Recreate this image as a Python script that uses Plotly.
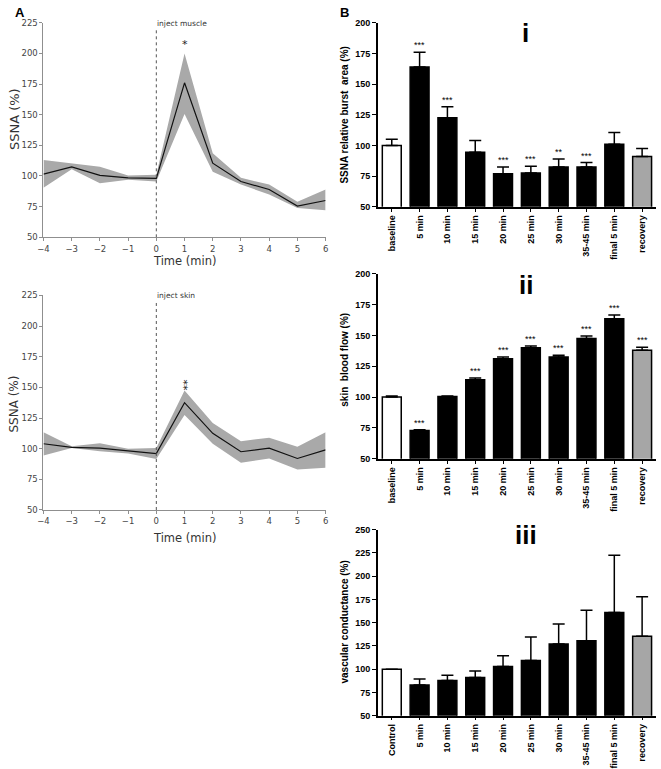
import plotly.graph_objects as go

W, H = 661, 769

# ---------------- data ----------------
time_min = [-4, -3, -2, -1, 0, 1, 2, 3, 4, 5, 6]

muscle_mean = [101.5, 107.5, 100.5, 98.5, 98, 176, 110.5, 95.5, 89, 75.5, 80]
muscle_upper = [113, 110, 107.5, 100.5, 101, 200, 118.5, 98.5, 93, 79, 89]
muscle_lower = [90.5, 105.5, 94, 97, 95.5, 150.5, 103.5, 93, 85, 74, 72]

skin_mean = [104, 101, 100.5, 98, 96, 137.5, 112.5, 97.5, 100.5, 92, 99]
skin_upper = [113.5, 102, 104.5, 100, 100.5, 147.5, 121, 106, 109, 101.5, 113.5]
skin_lower = [94.5, 100.5, 98, 96, 91.5, 127.5, 104, 88.5, 92, 83, 84.5]

periods = ["baseline", "5 min", "10 min", "15 min", "20 min", "25 min",
           "30 min", "35-45 min", "final 5 min", "recovery"]
periods_iii = ["Control", "5 min", "10 min", "15 min", "20 min", "25 min",
               "30 min", "35-45 min", "final 5 min", "recovery"]

burst_area = [100, 164, 122.5, 94.5, 77, 77.5, 82.5, 82.5, 101, 91]
burst_err = [5, 12, 9, 9.5, 5.5, 5.5, 6.5, 3.5, 9.5, 6.5]
burst_sig = ["", "***", "***", "", "***", "***", "**", "***", "", ""]

blood_flow = [100, 73, 100.5, 114, 131, 140, 132.5, 147.5, 163.5, 138]
blood_err = [1, 0.5, 0.5, 1.5, 1.5, 1.5, 1.5, 2, 3, 2.5]
blood_sig = ["", "***", "", "***", "***", "***", "***", "***", "***", "***"]

conductance = [100, 83, 88, 91, 103, 109.5, 127, 130.5, 161, 135.5]
cond_err = [0, 6.5, 5.5, 7, 11.5, 25, 21.5, 33, 61.5, 42.5]

bar_colors = ["white"] + ["black"] * 8 + ["#a6a6a6"]

# ---------------- geometry helpers ----------------
def fx(px):
    return px / W

def fy(py):
    return 1 - py / H

fig = go.Figure()

GREY_AX = "#8f8f8f"
A_FONT = "DejaVu Sans"
B_FONT = "Liberation Sans, Arial"

# ---------------- Panel A ----------------
def add_line_panel(xa, ya, mean, upper, lower):
    fig.add_trace(go.Scatter(x=time_min, y=upper, mode="lines", line=dict(width=0, color="rgba(0,0,0,0)"),
                             xaxis=xa, yaxis=ya, showlegend=False, hoverinfo="skip"))
    fig.add_trace(go.Scatter(x=time_min, y=lower, mode="lines", line=dict(width=0, color="rgba(0,0,0,0)"),
                             fill="tonexty", fillcolor="#a9a9a9",
                             xaxis=xa, yaxis=ya, showlegend=False, hoverinfo="skip"))
    fig.add_trace(go.Scatter(x=time_min, y=mean, mode="lines", line=dict(width=1.2, color="#111111"),
                             xaxis=xa, yaxis=ya, showlegend=False))

add_line_panel("x", "y", muscle_mean, muscle_upper, muscle_lower)
add_line_panel("x2", "y2", skin_mean, skin_upper, skin_lower)

a_x_common = dict(range=[-4, 6], tickmode="array", tickvals=time_min,
                  showline=True, linecolor=GREY_AX, linewidth=1,
                  ticks="outside", ticklen=3, tickcolor=GREY_AX,
                  tickfont=dict(family=A_FONT, size=8.5, color="#444"),
                  showgrid=False, zeroline=False)
a_y_common = dict(range=[50, 225], tickmode="array", tickvals=[50, 75, 100, 125, 150, 175, 200, 225],
                  showline=True, linecolor=GREY_AX, linewidth=1,
                  ticks="outside", ticklen=3, tickcolor=GREY_AX,
                  tickfont=dict(family=A_FONT, size=8.5, color="#444"),
                  showgrid=False, zeroline=False)

fig.update_layout(
    xaxis=dict(domain=[fx(38), fx(324)], anchor="y", **a_x_common),
    yaxis=dict(domain=[fy(236), fy(18)], anchor="x", **a_y_common),
    xaxis2=dict(domain=[fx(38), fx(324)], anchor="y2", **a_x_common),
    yaxis2=dict(domain=[fy(513), fy(295)], anchor="x2", **a_y_common),
)

# dashed injection lines
for xa, ya in (("x", "y"), ("x2", "y2")):
    fig.add_shape(type="line", x0=0, x1=0, y0=50, y1=221, xref=xa, yref=ya,
                  line=dict(color="#555555", width=1, dash="dot"))

# ---------------- Panel B ----------------
def add_bar_panel(xa, ya, cats, vals, errs):
    fig.add_trace(go.Bar(x=cats, y=vals, xaxis=xa, yaxis=ya, width=0.68,
                         marker=dict(color=bar_colors, line=dict(color="black", width=1.5)),
                         error_y=dict(type="data", array=errs, arrayminus=[0] * len(errs),
                                      symmetric=False, color="black", thickness=1.5, width=6),
                         showlegend=False))

add_bar_panel("x3", "y3", periods, burst_area, burst_err)
add_bar_panel("x4", "y4", periods, blood_flow, blood_err)
add_bar_panel("x5", "y5", periods_iii, conductance, cond_err)

b_x_common = dict(type="category", range=[-0.5, 9.5], showline=True, linecolor="black", linewidth=1.5,
                  ticks="outside", ticklen=3, tickwidth=1.2, tickcolor="black", tickangle=-90,
                  tickfont=dict(family=B_FONT, size=9, color="black", weight="bold"),
                  showgrid=False, zeroline=False)
b_y_common = dict(showline=True, linecolor="black", linewidth=1.5,
                  ticks="outside", ticklen=4, tickwidth=1.2, tickcolor="black",
                  tickfont=dict(family=B_FONT, size=9, color="black", weight="bold"),
                  showgrid=False, zeroline=False)

fig.update_layout(
    xaxis3=dict(domain=[fx(377), fx(659)], anchor="y3", **b_x_common),
    yaxis3=dict(domain=[fy(205), fy(18)], anchor="x3", range=[50, 200],
                tickvals=[50, 75, 100, 125, 150, 175, 200], **b_y_common),
    xaxis4=dict(domain=[fx(377), fx(659)], anchor="y4", **b_x_common),
    yaxis4=dict(domain=[fy(461), fy(273)], anchor="x4", range=[50, 200],
                tickvals=[50, 75, 100, 125, 150, 175, 200], **b_y_common),
    xaxis5=dict(domain=[fx(377), fx(659)], anchor="y5", **b_x_common),
    yaxis5=dict(domain=[fy(722), fy(533)], anchor="x5", range=[50, 250],
                tickvals=[50, 75, 100, 125, 150, 175, 200, 225, 250], **b_y_common),
)

annotations = []

# significance stars
for xa, ya, cats, vals, errs, sig in (("x3", "y3", periods, burst_area, burst_err, burst_sig),
                                       ("x4", "y4", periods, blood_flow, blood_err, blood_sig)):
    for c, v, e, s in zip(cats, vals, errs, sig):
        if s:
            annotations.append(dict(x=c, y=v + e, xref=xa, yref=ya, text=s, showarrow=False,
                                    yanchor="bottom", yshift=0,
                                    font=dict(family=B_FONT, size=9, color="black")))

# star annotations panel A
annotations.append(dict(x=1, y=207, xref="x", yref="y", text="*", showarrow=False,
                        yanchor="middle", font=dict(family=A_FONT, size=11, color="#222")))
annotations.append(dict(x=1, y=152, xref="x2", yref="y2", text="**", showarrow=False,
                        textangle=-90, xanchor="center", yanchor="middle", xshift=3,
                        font=dict(family=A_FONT, size=11, color="#222")))

# inject labels
annotations.append(dict(x=fx(151), y=fy(19), xref="paper", yref="paper", text="inject muscle",
                        showarrow=False, xanchor="left", yanchor="middle",
                        font=dict(family=A_FONT, size=7.5, color="#333")))
annotations.append(dict(x=fx(151), y=fy(295), xref="paper", yref="paper", text="inject skin",
                        showarrow=False, xanchor="left", yanchor="middle",
                        font=dict(family=A_FONT, size=7.5, color="#333")))

# axis titles panel A
for cy, sz in ((116, 13), (405, 12)):
    annotations.append(dict(x=fx(8), y=fy(cy), xref="paper", yref="paper", text="SSNA (%)",
                            showarrow=False, textangle=-90, xanchor="center", yanchor="middle",
                            font=dict(family=A_FONT, size=sz, color="#333")))
for cy in (260, 541):
    annotations.append(dict(x=fx(181), y=fy(cy), xref="paper", yref="paper", text="Time (min)",
                            showarrow=False, xanchor="center", yanchor="middle",
                            font=dict(family=A_FONT, size=11.5, color="#333")))

# axis titles panel B
for cy, txt in ((112, "SSNA relative burst\u00a0 area (%)"),
                (360, "skin\u00a0 blood flow (%)"),
                (627, "vascular conductance (%)")):
    annotations.append(dict(x=fx(343), y=fy(cy), xref="paper", yref="paper", text=txt,
                            showarrow=False, textangle=-90, xanchor="center", yanchor="middle",
                            font=dict(family=B_FONT, size=10, color="black", weight="bold")))

# roman numerals
for cy, txt in ((28, "i"), (284, "ii"), (538, "iii")):
    annotations.append(dict(x=fx(527), y=fy(cy), xref="paper", yref="paper", text=txt,
                            showarrow=False, xanchor="center", yanchor="middle",
                            font=dict(family="Liberation Sans Narrow, Liberation Sans, Arial",
                                      size=26, color="black", weight="bold")))

# panel letters
annotations.append(dict(x=fx(14), y=fy(8), xref="paper", yref="paper", text="A", showarrow=False,
                        xanchor="center", yanchor="middle",
                        font=dict(family=B_FONT, size=13, color="black", weight="bold")))
annotations.append(dict(x=fx(343), y=fy(8), xref="paper", yref="paper", text="B", showarrow=False,
                        xanchor="center", yanchor="middle",
                        font=dict(family=B_FONT, size=13, color="black", weight="bold")))

fig.update_layout(
    width=W, height=H, autosize=False,
    margin=dict(l=0, r=0, t=0, b=0, pad=0),
    paper_bgcolor="white", plot_bgcolor="white",
    annotations=annotations,
    showlegend=False,
    bargap=0.3,
)

fig.write_html("out.html", config={"displayModeBar": False},
               post_script="document.body.style.margin='0';document.body.style.padding='0';"
                           "document.body.style.overflow='hidden';")
